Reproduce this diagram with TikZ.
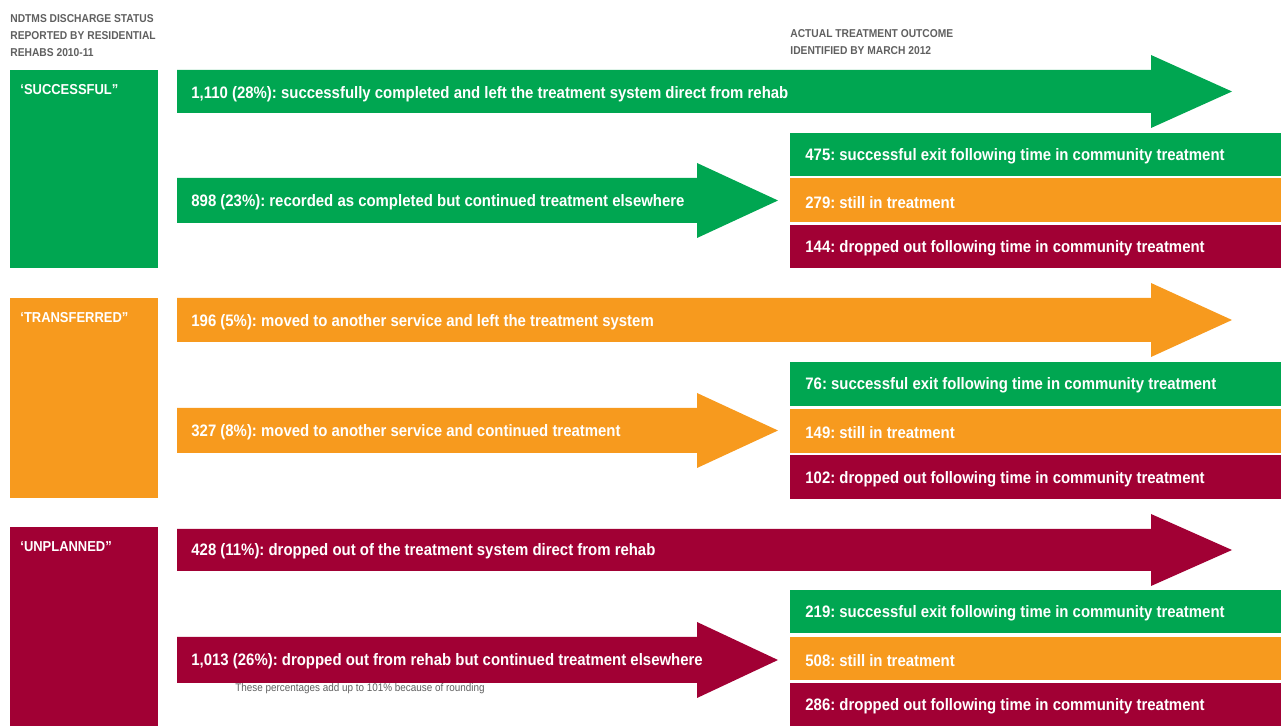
\documentclass[tikz,border=0pt]{standalone}
\usepackage{fontspec}
\setmainfont{Liberation Sans}[FakeStretch=0.9]
\usetikzlibrary{positioning}

\definecolor{okgreen}{RGB}{0,166,81}
\definecolor{midorange}{RGB}{247,154,30}
\definecolor{dropred}{RGB}{161,0,52}
\definecolor{headgray}{RGB}{95,95,95}

% shaft from x=177, head overhang 15
\newcommand{\flowarrow}[5]{%
  \fill[#1] (177,#2) -- (#4,#2) -- (#4,#2-15) -- (#5,{(#2+#3)/2}) -- (#4,#3+15) -- (#4,#3) -- (177,#3) -- cycle;}

\frenchspacing
\begin{document}
\begin{tikzpicture}[
  x=0.5pt, y=-0.5pt,
  headtext/.style={anchor=north west, align=left, inner sep=0pt, text=headgray, font=\bfseries\fontsize{5.7}{8.6}\selectfont},
  boxlabel/.style={anchor=west, inner sep=0pt, yshift=-0.5pt, text=white, font=\bfseries\fontsize{7.2}{9}\selectfont},
  armtext/.style={anchor=west, inner sep=0pt, yshift=-0.6pt, text=white, font=\bfseries\fontsize{8.3}{9}\selectfont},
  bartext/.style={anchor=west, inner sep=0pt, yshift=-0.6pt, text=white, font=\bfseries\fontsize{8.3}{9}\selectfont},
  notetext/.style={anchor=west, inner sep=0pt, text=headgray, font=\fontsize{5.5}{6}\selectfont}
]
\useasboundingbox (0,0) rectangle (1281,726);

\node[headtext] (lefthead) at (10,14) {NDTMS DISCHARGE STATUS\\REPORTED BY RESIDENTIAL\\REHABS 2010-11};
\node[headtext] (righthead) at (790,29) {ACTUAL TREATMENT OUTCOME\\IDENTIFIED BY MARCH 2012};

% successful
\fill[okgreen] (10,70) rectangle (158,268);
\node[boxlabel] (suclabel) at (20,89) {‘SUCCESSFUL”};
\flowarrow{okgreen}{70}{113}{1151}{1232}
\node[armtext] (sucdirect) at (191,93) {1,110 (28\%): successfully completed and left the treatment system direct from rehab};
\flowarrow{okgreen}{178}{223}{697}{778}
\node[armtext] (succont) at (191,201) {898 (23\%): recorded as completed but continued treatment elsewhere};
\fill[okgreen] (790,133) rectangle (1281,176);
\node[bartext] (sucexit) at (805,155) {475: successful exit following time in community treatment};
\fill[midorange] (790,178) rectangle (1281,222);
\node[bartext] (sucstill) at (805,201) {279: still in treatment};
\fill[dropred] (790,225) rectangle (1281,268);
\node[bartext] (sucdrop) at (805,247) {144: dropped out following time in community treatment};

% transferred
\begin{scope}[shift={(0,228)}]
\fill[midorange] (10,70) rectangle (158,270);
\node[boxlabel] (trflabel) at (20,89) {‘TRANSFERRED”};
\flowarrow{midorange}{70}{114}{1151}{1232}
\node[armtext] (trfdirect) at (191,93) {196 (5\%): moved to another service and left the treatment system};
\flowarrow{midorange}{180}{225}{697}{778}
\node[armtext] (trfcont) at (191,203) {327 (8\%): moved to another service and continued treatment};
\fill[okgreen] (790,134) rectangle (1281,178);
\node[bartext] (trfexit) at (805,156) {76: successful exit following time in community treatment};
\fill[midorange] (790,181) rectangle (1281,225);
\node[bartext] (trfstill) at (805,203) {149: still in treatment};
\fill[dropred] (790,227) rectangle (1281,271);
\node[bartext] (trfdrop) at (805,250) {102: dropped out following time in community treatment};
\end{scope}

% unplanned
\begin{scope}[shift={(0,457)}]
\fill[dropred] (10,70) rectangle (158,269);
\node[boxlabel] (unplabel) at (20,89) {‘UNPLANNED”};
\flowarrow{dropred}{72}{114}{1151}{1232}
\node[armtext] (unpdirect) at (191,93) {428 (11\%): dropped out of the treatment system direct from rehab};
\flowarrow{dropred}{180}{226}{697}{778}
\node[armtext] (unpcont) at (191,203) {1,013 (26\%): dropped out from rehab but continued treatment elsewhere};
\fill[okgreen] (790,133) rectangle (1281,176);
\node[bartext] (unpexit) at (805,155) {219: successful exit following time in community treatment};
\fill[midorange] (790,180) rectangle (1281,223);
\node[bartext] (unpstill) at (805,202) {508: still in treatment};
\fill[dropred] (790,226) rectangle (1281,269);
\node[bartext] (unpdrop) at (805,248) {286: dropped out following time in community treatment};
\node[notetext] (roundnote) at (235,232) {These percentages add up to 101\% because of rounding};
\end{scope}
\end{tikzpicture}
\end{document}
